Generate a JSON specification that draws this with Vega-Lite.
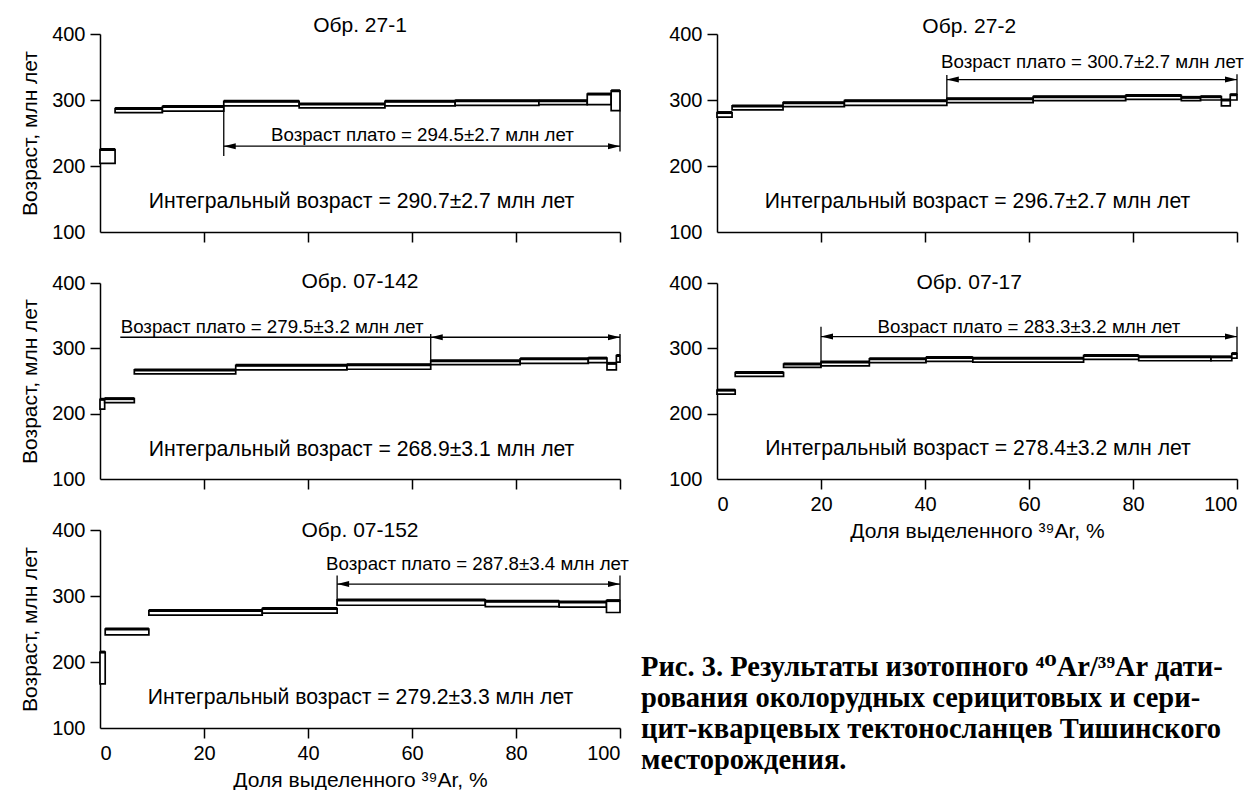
{
  "$schema": "https://vega.github.io/schema/vega-lite/v6.json",
  "padding": {"left": 19, "top": 15, "right": 0, "bottom": 0},
  "background": "white",
  "datasets": {
    "steps": [
      {"s": "27-1", "x1": 0, "x2": 2.9, "lo": 204, "hi": 225},
      {"s": "27-1", "x1": 2.9, "x2": 12.0, "lo": 281, "hi": 287},
      {"s": "27-1", "x1": 12.0, "x2": 23.8, "lo": 283, "hi": 290},
      {"s": "27-1", "x1": 23.8, "x2": 38.3, "lo": 291, "hi": 298},
      {"s": "27-1", "x1": 38.3, "x2": 54.8, "lo": 288, "hi": 294},
      {"s": "27-1", "x1": 54.8, "x2": 68.3, "lo": 291, "hi": 298},
      {"s": "27-1", "x1": 68.3, "x2": 84.4, "lo": 292, "hi": 299},
      {"s": "27-1", "x1": 84.4, "x2": 93.7, "lo": 293, "hi": 299},
      {"s": "27-1", "x1": 93.7, "x2": 98.3, "lo": 293, "hi": 309},
      {"s": "27-1", "x1": 98.3, "x2": 100, "lo": 284, "hi": 314},
      {"s": "27-2", "x1": 0, "x2": 2.9, "lo": 274, "hi": 281},
      {"s": "27-2", "x1": 2.9, "x2": 12.7, "lo": 285, "hi": 291},
      {"s": "27-2", "x1": 12.7, "x2": 24.5, "lo": 290, "hi": 296},
      {"s": "27-2", "x1": 24.5, "x2": 44.2, "lo": 292, "hi": 299},
      {"s": "27-2", "x1": 44.2, "x2": 60.8, "lo": 296, "hi": 302},
      {"s": "27-2", "x1": 60.8, "x2": 78.6, "lo": 299, "hi": 305},
      {"s": "27-2", "x1": 78.6, "x2": 89.3, "lo": 301, "hi": 307},
      {"s": "27-2", "x1": 89.3, "x2": 93.0, "lo": 299, "hi": 304},
      {"s": "27-2", "x1": 93.0, "x2": 97.0, "lo": 300, "hi": 305},
      {"s": "27-2", "x1": 97.0, "x2": 98.7, "lo": 291, "hi": 300},
      {"s": "27-2", "x1": 98.7, "x2": 100, "lo": 300, "hi": 308},
      {"s": "07-142", "x1": 0, "x2": 0.9, "lo": 207, "hi": 222},
      {"s": "07-142", "x1": 0.9, "x2": 6.6, "lo": 217, "hi": 223},
      {"s": "07-142", "x1": 6.6, "x2": 26.1, "lo": 261, "hi": 267},
      {"s": "07-142", "x1": 26.1, "x2": 47.5, "lo": 267, "hi": 274},
      {"s": "07-142", "x1": 47.5, "x2": 63.6, "lo": 268, "hi": 275},
      {"s": "07-142", "x1": 63.6, "x2": 80.8, "lo": 275, "hi": 281},
      {"s": "07-142", "x1": 80.8, "x2": 93.9, "lo": 277, "hi": 284},
      {"s": "07-142", "x1": 93.9, "x2": 97.5, "lo": 278, "hi": 285},
      {"s": "07-142", "x1": 97.5, "x2": 99.3, "lo": 267, "hi": 277},
      {"s": "07-142", "x1": 99.3, "x2": 100, "lo": 279, "hi": 289},
      {"s": "07-17", "x1": 0, "x2": 3.5, "lo": 230, "hi": 236},
      {"s": "07-17", "x1": 3.5, "x2": 12.8, "lo": 257, "hi": 263},
      {"s": "07-17", "x1": 12.8, "x2": 20.0, "lo": 271, "hi": 276},
      {"s": "07-17", "x1": 20.0, "x2": 29.3, "lo": 273, "hi": 279},
      {"s": "07-17", "x1": 29.3, "x2": 40.2, "lo": 278, "hi": 284},
      {"s": "07-17", "x1": 40.2, "x2": 49.2, "lo": 280, "hi": 286},
      {"s": "07-17", "x1": 49.2, "x2": 70.5, "lo": 279, "hi": 285},
      {"s": "07-17", "x1": 70.5, "x2": 81.1, "lo": 283, "hi": 289},
      {"s": "07-17", "x1": 81.1, "x2": 95.0, "lo": 281, "hi": 287},
      {"s": "07-17", "x1": 95.0, "x2": 99.0, "lo": 281, "hi": 287},
      {"s": "07-17", "x1": 99.0, "x2": 100, "lo": 285, "hi": 292},
      {"s": "07-152", "x1": 0, "x2": 1.0, "lo": 167, "hi": 215},
      {"s": "07-152", "x1": 1.0, "x2": 9.4, "lo": 241, "hi": 250},
      {"s": "07-152", "x1": 9.4, "x2": 31.2, "lo": 271, "hi": 278},
      {"s": "07-152", "x1": 31.2, "x2": 45.6, "lo": 274, "hi": 281},
      {"s": "07-152", "x1": 45.6, "x2": 74.1, "lo": 286, "hi": 294},
      {"s": "07-152", "x1": 74.1, "x2": 88.3, "lo": 284, "hi": 292},
      {"s": "07-152", "x1": 88.3, "x2": 97.4, "lo": 283, "hi": 291},
      {"s": "07-152", "x1": 97.4, "x2": 100, "lo": 275, "hi": 293}
    ],
    "plateau": [
      {"s": "27-1", "xa": 23.8, "xb": 100, "y": 230, "arrow": true},
      {"s": "27-2", "xa": 44.2, "xb": 100, "y": 331, "arrow": true},
      {"s": "07-142", "xa": 63.6, "xb": 100, "y": 317, "arrow": true},
      {"s": "07-142", "xa": 3.9, "xb": 63.6, "y": 317, "arrow": false},
      {"s": "07-17", "xa": 20.0, "xb": 100, "y": 318, "arrow": true},
      {"s": "07-152", "xa": 45.6, "xb": 100, "y": 318, "arrow": true}
    ],
    "bounds": [
      {"s": "27-1", "x": 23.8, "ya": 215, "yb": 291},
      {"s": "27-1", "x": 100, "ya": 222, "yb": 284},
      {"s": "27-2", "x": 44.2, "ya": 299, "yb": 338},
      {"s": "27-2", "x": 100, "ya": 308, "yb": 339},
      {"s": "07-142", "x": 63.6, "ya": 281, "yb": 322},
      {"s": "07-142", "x": 100, "ya": 289, "yb": 322},
      {"s": "07-17", "x": 20.0, "ya": 273, "yb": 333},
      {"s": "07-17", "x": 100, "ya": 292, "yb": 333},
      {"s": "07-152", "x": 45.6, "ya": 286, "yb": 331},
      {"s": "07-152", "x": 100, "ya": 293, "yb": 331}
    ],
    "labels": [
      {"s": "27-1", "kind": "title", "x": 50, "y": 412, "text": "Обр. 27-1"},
      {"s": "27-1", "kind": "plateau", "x": 62, "y": 247, "text": "Возраст плато = 294.5±2.7 млн лет"},
      {"s": "27-1", "kind": "integral", "x": 50.3, "y": 146, "text": "Интегральный возраст = 290.7±2.7 млн лет"},
      {"s": "27-2", "kind": "title", "x": 48.5, "y": 411, "text": "Обр. 27-2"},
      {"s": "27-2", "kind": "plateau", "x": 72.2, "y": 358, "text": "Возраст плато = 300.7±2.7 млн лет"},
      {"s": "27-2", "kind": "integral", "x": 50.1, "y": 146, "text": "Интегральный возраст = 296.7±2.7 млн лет"},
      {"s": "07-142", "kind": "title", "x": 50, "y": 401, "text": "Обр. 07-142"},
      {"s": "07-142", "kind": "plateau", "x": 33.1, "y": 333, "text": "Возраст плато = 279.5±3.2 млн лет"},
      {"s": "07-142", "kind": "integral", "x": 50.3, "y": 144, "text": "Интегральный возраст = 268.9±3.1 млн лет"},
      {"s": "07-17", "kind": "title", "x": 48.5, "y": 400, "text": "Обр. 07-17"},
      {"s": "07-17", "kind": "plateau", "x": 60, "y": 333, "text": "Возраст плато = 283.3±3.2 млн лет"},
      {"s": "07-17", "kind": "integral", "x": 50.2, "y": 146, "text": "Интегральный возраст = 278.4±3.2 млн лет"},
      {"s": "07-152", "kind": "title", "x": 50, "y": 399, "text": "Обр. 07-152"},
      {"s": "07-152", "kind": "plateau", "x": 72.6, "y": 348, "text": "Возраст плато = 287.8±3.4 млн лет"},
      {"s": "07-152", "kind": "integral", "x": 50.1, "y": 145, "text": "Интегральный возраст = 279.2±3.3 млн лет"}
    ],
    "caption": [
      {"line": 1, "text": "Рис. 3. Результаты изотопного ⁴⁰Ar/³⁹Ar дати-"},
      {"line": 2, "text": "рования околорудных серицитовых и сери-"},
      {"line": 3, "text": "цит-кварцевых тектоносланцев Тишинского"},
      {"line": 4, "text": "месторождения."}
    ]
  },
  "columns": 2,
  "spacing": {"row": 51, "column": 97},
  "bounds": "flush",
  "concat": [
    {
      "width": 520, "height": 198,
      "layer": [
        {"data": {"name": "steps"}, "transform": [{"filter": "datum.s === '27-1'"}],
         "mark": {"type": "rect", "fill": "white", "stroke": "black", "strokeWidth": 1.7},
         "encoding": {
           "x": {"field": "x1", "type": "quantitative", "scale": {"domain": [0, 100], "nice": false, "zero": false},
                 "axis": {"values": [0, 20, 40, 60, 80, 100], "labels": false, "title": null, "tickOpacity": {"condition": {"test": "datum.value === 0", "value": 0}, "value": 1}}},
           "x2": {"field": "x2"},
           "y": {"field": "lo", "type": "quantitative", "scale": {"domain": [100, 400], "nice": false, "zero": false},
                 "axis": {"values": [100, 200, 300, 400], "title": "Возраст, млн лет", "tickOpacity": {"condition": {"test": "datum.value === 100", "value": 0}, "value": 1}}},
           "y2": {"field": "hi"}}},
        {"data": {"name": "steps"}, "transform": [{"filter": "datum.s === '27-1'"}],
         "mark": {"type": "rule", "color": "black", "strokeWidth": 3},
         "encoding": {"x": {"field": "x1", "type": "quantitative", "title": null}, "x2": {"field": "x2"}, "y": {"field": "hi", "type": "quantitative", "title": "Возраст, млн лет"}}},
        {"data": {"name": "plateau"}, "transform": [{"filter": "datum.s === '27-1'"}],
         "mark": {"type": "rule", "color": "black", "strokeWidth": 1.3},
         "encoding": {"x": {"field": "xa", "type": "quantitative", "title": null}, "x2": {"field": "xb"}, "y": {"field": "y", "type": "quantitative", "title": "Возраст, млн лет"}}},
        {"data": {"name": "bounds"}, "transform": [{"filter": "datum.s === '27-1'"}],
         "mark": {"type": "rule", "color": "black", "strokeWidth": 1.3},
         "encoding": {"x": {"field": "x", "type": "quantitative", "title": null}, "y": {"field": "ya", "type": "quantitative", "title": "Возраст, млн лет"}, "y2": {"field": "yb"}}},
        {"data": {"name": "plateau"}, "transform": [{"filter": "datum.s === '27-1' && datum.arrow"}],
         "mark": {"type": "point", "shape": "M 0 0 L 2 -0.5 L 2 0.5 Z", "filled": true, "color": "black", "opacity": 1, "size": 144},
         "encoding": {"x": {"field": "xa", "type": "quantitative", "title": null}, "y": {"field": "y", "type": "quantitative", "title": "Возраст, млн лет"}}},
        {"data": {"name": "plateau"}, "transform": [{"filter": "datum.s === '27-1' && datum.arrow"}],
         "mark": {"type": "point", "shape": "M 0 0 L -2 -0.5 L -2 0.5 Z", "filled": true, "color": "black", "opacity": 1, "size": 144},
         "encoding": {"x": {"field": "xb", "type": "quantitative", "title": null}, "y": {"field": "y", "type": "quantitative", "title": "Возраст, млн лет"}}},
        {"data": {"name": "labels"}, "transform": [{"filter": "datum.s === '27-1'"}],
         "mark": {"type": "text", "font": "Liberation Sans", "color": "black"},
         "encoding": {"x": {"field": "x", "type": "quantitative", "title": null}, "y": {"field": "y", "type": "quantitative", "title": "Возраст, млн лет"},
                      "text": {"field": "text"},
                      "size": {"field": "kind", "type": "nominal", "scale": {"type": "ordinal", "domain": ["title", "plateau", "integral"], "range": [21, 18.7, 21.2]}, "legend": null}}}
      ]
    },
    {
      "width": 520, "height": 198,
      "layer": [
        {"data": {"name": "steps"}, "transform": [{"filter": "datum.s === '27-2'"}],
         "mark": {"type": "rect", "fill": "white", "stroke": "black", "strokeWidth": 1.7},
         "encoding": {
           "x": {"field": "x1", "type": "quantitative", "scale": {"domain": [0, 100], "nice": false, "zero": false},
                 "axis": {"values": [0, 20, 40, 60, 80, 100], "labels": false, "title": null, "tickOpacity": {"condition": {"test": "datum.value === 0", "value": 0}, "value": 1}}},
           "x2": {"field": "x2"},
           "y": {"field": "lo", "type": "quantitative", "scale": {"domain": [100, 400], "nice": false, "zero": false},
                 "axis": {"values": [100, 200, 300, 400], "title": null, "tickOpacity": {"condition": {"test": "datum.value === 100", "value": 0}, "value": 1}}},
           "y2": {"field": "hi"}}},
        {"data": {"name": "steps"}, "transform": [{"filter": "datum.s === '27-2'"}],
         "mark": {"type": "rule", "color": "black", "strokeWidth": 3},
         "encoding": {"x": {"field": "x1", "type": "quantitative", "title": null}, "x2": {"field": "x2"}, "y": {"field": "hi", "type": "quantitative", "title": null}}},
        {"data": {"name": "plateau"}, "transform": [{"filter": "datum.s === '27-2'"}],
         "mark": {"type": "rule", "color": "black", "strokeWidth": 1.3},
         "encoding": {"x": {"field": "xa", "type": "quantitative", "title": null}, "x2": {"field": "xb"}, "y": {"field": "y", "type": "quantitative", "title": null}}},
        {"data": {"name": "bounds"}, "transform": [{"filter": "datum.s === '27-2'"}],
         "mark": {"type": "rule", "color": "black", "strokeWidth": 1.3},
         "encoding": {"x": {"field": "x", "type": "quantitative", "title": null}, "y": {"field": "ya", "type": "quantitative", "title": null}, "y2": {"field": "yb"}}},
        {"data": {"name": "plateau"}, "transform": [{"filter": "datum.s === '27-2' && datum.arrow"}],
         "mark": {"type": "point", "shape": "M 0 0 L 2 -0.5 L 2 0.5 Z", "filled": true, "color": "black", "opacity": 1, "size": 144},
         "encoding": {"x": {"field": "xa", "type": "quantitative", "title": null}, "y": {"field": "y", "type": "quantitative", "title": null}}},
        {"data": {"name": "plateau"}, "transform": [{"filter": "datum.s === '27-2' && datum.arrow"}],
         "mark": {"type": "point", "shape": "M 0 0 L -2 -0.5 L -2 0.5 Z", "filled": true, "color": "black", "opacity": 1, "size": 144},
         "encoding": {"x": {"field": "xb", "type": "quantitative", "title": null}, "y": {"field": "y", "type": "quantitative", "title": null}}},
        {"data": {"name": "labels"}, "transform": [{"filter": "datum.s === '27-2'"}],
         "mark": {"type": "text", "font": "Liberation Sans", "color": "black"},
         "encoding": {"x": {"field": "x", "type": "quantitative", "title": null}, "y": {"field": "y", "type": "quantitative", "title": null},
                      "text": {"field": "text"},
                      "size": {"field": "kind", "type": "nominal", "scale": {"type": "ordinal", "domain": ["title", "plateau", "integral"], "range": [21, 18.7, 21.2]}, "legend": null}}}
      ]
    },
    {
      "width": 520, "height": 196,
      "layer": [
        {"data": {"name": "steps"}, "transform": [{"filter": "datum.s === '07-142'"}],
         "mark": {"type": "rect", "fill": "white", "stroke": "black", "strokeWidth": 1.7},
         "encoding": {
           "x": {"field": "x1", "type": "quantitative", "scale": {"domain": [0, 100], "nice": false, "zero": false},
                 "axis": {"values": [0, 20, 40, 60, 80, 100], "labels": false, "title": null, "tickOpacity": {"condition": {"test": "datum.value === 0", "value": 0}, "value": 1}}},
           "x2": {"field": "x2"},
           "y": {"field": "lo", "type": "quantitative", "scale": {"domain": [100, 400], "nice": false, "zero": false},
                 "axis": {"values": [100, 200, 300, 400], "title": "Возраст, млн лет", "tickOpacity": {"condition": {"test": "datum.value === 100", "value": 0}, "value": 1}}},
           "y2": {"field": "hi"}}},
        {"data": {"name": "steps"}, "transform": [{"filter": "datum.s === '07-142'"}],
         "mark": {"type": "rule", "color": "black", "strokeWidth": 3},
         "encoding": {"x": {"field": "x1", "type": "quantitative", "title": null}, "x2": {"field": "x2"}, "y": {"field": "hi", "type": "quantitative", "title": "Возраст, млн лет"}}},
        {"data": {"name": "plateau"}, "transform": [{"filter": "datum.s === '07-142'"}],
         "mark": {"type": "rule", "color": "black", "strokeWidth": 1.3},
         "encoding": {"x": {"field": "xa", "type": "quantitative", "title": null}, "x2": {"field": "xb"}, "y": {"field": "y", "type": "quantitative", "title": "Возраст, млн лет"}}},
        {"data": {"name": "bounds"}, "transform": [{"filter": "datum.s === '07-142'"}],
         "mark": {"type": "rule", "color": "black", "strokeWidth": 1.3},
         "encoding": {"x": {"field": "x", "type": "quantitative", "title": null}, "y": {"field": "ya", "type": "quantitative", "title": "Возраст, млн лет"}, "y2": {"field": "yb"}}},
        {"data": {"name": "plateau"}, "transform": [{"filter": "datum.s === '07-142' && datum.arrow"}],
         "mark": {"type": "point", "shape": "M 0 0 L 2 -0.5 L 2 0.5 Z", "filled": true, "color": "black", "opacity": 1, "size": 144},
         "encoding": {"x": {"field": "xa", "type": "quantitative", "title": null}, "y": {"field": "y", "type": "quantitative", "title": "Возраст, млн лет"}}},
        {"data": {"name": "plateau"}, "transform": [{"filter": "datum.s === '07-142' && datum.arrow"}],
         "mark": {"type": "point", "shape": "M 0 0 L -2 -0.5 L -2 0.5 Z", "filled": true, "color": "black", "opacity": 1, "size": 144},
         "encoding": {"x": {"field": "xb", "type": "quantitative", "title": null}, "y": {"field": "y", "type": "quantitative", "title": "Возраст, млн лет"}}},
        {"data": {"name": "labels"}, "transform": [{"filter": "datum.s === '07-142'"}],
         "mark": {"type": "text", "font": "Liberation Sans", "color": "black"},
         "encoding": {"x": {"field": "x", "type": "quantitative", "title": null}, "y": {"field": "y", "type": "quantitative", "title": "Возраст, млн лет"},
                      "text": {"field": "text"},
                      "size": {"field": "kind", "type": "nominal", "scale": {"type": "ordinal", "domain": ["title", "plateau", "integral"], "range": [21, 18.7, 21.2]}, "legend": null}}}
      ]
    },
    {
      "width": 520, "height": 196,
      "layer": [
        {"data": {"name": "steps"}, "transform": [{"filter": "datum.s === '07-17'"}],
         "mark": {"type": "rect", "fill": "white", "stroke": "black", "strokeWidth": 1.7},
         "encoding": {
           "x": {"field": "x1", "type": "quantitative", "scale": {"domain": [0, 100], "nice": false, "zero": false},
                 "axis": {"values": [0, 20, 40, 60, 80, 100], "title": "Доля выделенного ³⁹Ar, %", "tickOpacity": {"condition": {"test": "datum.value === 0", "value": 0}, "value": 1}}},
           "x2": {"field": "x2"},
           "y": {"field": "lo", "type": "quantitative", "scale": {"domain": [100, 400], "nice": false, "zero": false},
                 "axis": {"values": [100, 200, 300, 400], "title": null, "tickOpacity": {"condition": {"test": "datum.value === 100", "value": 0}, "value": 1}}},
           "y2": {"field": "hi"}}},
        {"data": {"name": "steps"}, "transform": [{"filter": "datum.s === '07-17'"}],
         "mark": {"type": "rule", "color": "black", "strokeWidth": 3},
         "encoding": {"x": {"field": "x1", "type": "quantitative", "title": "Доля выделенного ³⁹Ar, %"}, "x2": {"field": "x2"}, "y": {"field": "hi", "type": "quantitative", "title": null}}},
        {"data": {"name": "plateau"}, "transform": [{"filter": "datum.s === '07-17'"}],
         "mark": {"type": "rule", "color": "black", "strokeWidth": 1.3},
         "encoding": {"x": {"field": "xa", "type": "quantitative", "title": "Доля выделенного ³⁹Ar, %"}, "x2": {"field": "xb"}, "y": {"field": "y", "type": "quantitative", "title": null}}},
        {"data": {"name": "bounds"}, "transform": [{"filter": "datum.s === '07-17'"}],
         "mark": {"type": "rule", "color": "black", "strokeWidth": 1.3},
         "encoding": {"x": {"field": "x", "type": "quantitative", "title": "Доля выделенного ³⁹Ar, %"}, "y": {"field": "ya", "type": "quantitative", "title": null}, "y2": {"field": "yb"}}},
        {"data": {"name": "plateau"}, "transform": [{"filter": "datum.s === '07-17' && datum.arrow"}],
         "mark": {"type": "point", "shape": "M 0 0 L 2 -0.5 L 2 0.5 Z", "filled": true, "color": "black", "opacity": 1, "size": 144},
         "encoding": {"x": {"field": "xa", "type": "quantitative", "title": "Доля выделенного ³⁹Ar, %"}, "y": {"field": "y", "type": "quantitative", "title": null}}},
        {"data": {"name": "plateau"}, "transform": [{"filter": "datum.s === '07-17' && datum.arrow"}],
         "mark": {"type": "point", "shape": "M 0 0 L -2 -0.5 L -2 0.5 Z", "filled": true, "color": "black", "opacity": 1, "size": 144},
         "encoding": {"x": {"field": "xb", "type": "quantitative", "title": "Доля выделенного ³⁹Ar, %"}, "y": {"field": "y", "type": "quantitative", "title": null}}},
        {"data": {"name": "labels"}, "transform": [{"filter": "datum.s === '07-17'"}],
         "mark": {"type": "text", "font": "Liberation Sans", "color": "black"},
         "encoding": {"x": {"field": "x", "type": "quantitative", "title": "Доля выделенного ³⁹Ar, %"}, "y": {"field": "y", "type": "quantitative", "title": null},
                      "text": {"field": "text"},
                      "size": {"field": "kind", "type": "nominal", "scale": {"type": "ordinal", "domain": ["title", "plateau", "integral"], "range": [21, 18.7, 21.2]}, "legend": null}}}
      ]
    },
    {
      "width": 520, "height": 198,
      "layer": [
        {"data": {"name": "steps"}, "transform": [{"filter": "datum.s === '07-152'"}],
         "mark": {"type": "rect", "fill": "white", "stroke": "black", "strokeWidth": 1.7},
         "encoding": {
           "x": {"field": "x1", "type": "quantitative", "scale": {"domain": [0, 100], "nice": false, "zero": false},
                 "axis": {"values": [0, 20, 40, 60, 80, 100], "title": "Доля выделенного ³⁹Ar, %", "tickOpacity": {"condition": {"test": "datum.value === 0", "value": 0}, "value": 1}}},
           "x2": {"field": "x2"},
           "y": {"field": "lo", "type": "quantitative", "scale": {"domain": [100, 400], "nice": false, "zero": false},
                 "axis": {"values": [100, 200, 300, 400], "title": "Возраст, млн лет", "tickOpacity": {"condition": {"test": "datum.value === 100", "value": 0}, "value": 1}}},
           "y2": {"field": "hi"}}},
        {"data": {"name": "steps"}, "transform": [{"filter": "datum.s === '07-152'"}],
         "mark": {"type": "rule", "color": "black", "strokeWidth": 3},
         "encoding": {"x": {"field": "x1", "type": "quantitative", "title": "Доля выделенного ³⁹Ar, %"}, "x2": {"field": "x2"}, "y": {"field": "hi", "type": "quantitative", "title": "Возраст, млн лет"}}},
        {"data": {"name": "plateau"}, "transform": [{"filter": "datum.s === '07-152'"}],
         "mark": {"type": "rule", "color": "black", "strokeWidth": 1.3},
         "encoding": {"x": {"field": "xa", "type": "quantitative", "title": "Доля выделенного ³⁹Ar, %"}, "x2": {"field": "xb"}, "y": {"field": "y", "type": "quantitative", "title": "Возраст, млн лет"}}},
        {"data": {"name": "bounds"}, "transform": [{"filter": "datum.s === '07-152'"}],
         "mark": {"type": "rule", "color": "black", "strokeWidth": 1.3},
         "encoding": {"x": {"field": "x", "type": "quantitative", "title": "Доля выделенного ³⁹Ar, %"}, "y": {"field": "ya", "type": "quantitative", "title": "Возраст, млн лет"}, "y2": {"field": "yb"}}},
        {"data": {"name": "plateau"}, "transform": [{"filter": "datum.s === '07-152' && datum.arrow"}],
         "mark": {"type": "point", "shape": "M 0 0 L 2 -0.5 L 2 0.5 Z", "filled": true, "color": "black", "opacity": 1, "size": 144},
         "encoding": {"x": {"field": "xa", "type": "quantitative", "title": "Доля выделенного ³⁹Ar, %"}, "y": {"field": "y", "type": "quantitative", "title": "Возраст, млн лет"}}},
        {"data": {"name": "plateau"}, "transform": [{"filter": "datum.s === '07-152' && datum.arrow"}],
         "mark": {"type": "point", "shape": "M 0 0 L -2 -0.5 L -2 0.5 Z", "filled": true, "color": "black", "opacity": 1, "size": 144},
         "encoding": {"x": {"field": "xb", "type": "quantitative", "title": "Доля выделенного ³⁹Ar, %"}, "y": {"field": "y", "type": "quantitative", "title": "Возраст, млн лет"}}},
        {"data": {"name": "labels"}, "transform": [{"filter": "datum.s === '07-152'"}],
         "mark": {"type": "text", "font": "Liberation Sans", "color": "black"},
         "encoding": {"x": {"field": "x", "type": "quantitative", "title": "Доля выделенного ³⁹Ar, %"}, "y": {"field": "y", "type": "quantitative", "title": "Возраст, млн лет"},
                      "text": {"field": "text"},
                      "size": {"field": "kind", "type": "nominal", "scale": {"type": "ordinal", "domain": ["title", "plateau", "integral"], "range": [21, 18.7, 21.2]}, "legend": null}}}
      ]
    },
    {
      "width": 520, "height": 124,
      "data": {"name": "caption"},
      "mark": {"type": "text", "font": "Liberation Serif, DejaVu Serif", "fontWeight": "bold", "fontSize": 28.5, "align": "left", "color": "black", "dx": -76, "dy": 121},
      "encoding": {
        "y": {"field": "line", "type": "ordinal", "axis": null},
        "x": {"datum": 0, "type": "quantitative", "scale": {"domain": [0, 1]}, "axis": null},
        "text": {"field": "text"}
      }
    }
  ],
  "config": {
    "view": {"stroke": null},
    "axis": {
      "domainColor": "black", "domainWidth": 1.5,
      "tickColor": "black", "tickWidth": 1.5, "tickSize": 10,
      "labelColor": "black", "labelFont": "Liberation Sans", "labelFontSize": 20, "labelPadding": 5,
      "titleColor": "black", "titleFont": "Liberation Sans", "titleFontSize": 21, "titleFontWeight": "normal", "titlePadding": 11,
      "grid": false
    },
    "axisX": {"titlePadding": 6}
  }
}
